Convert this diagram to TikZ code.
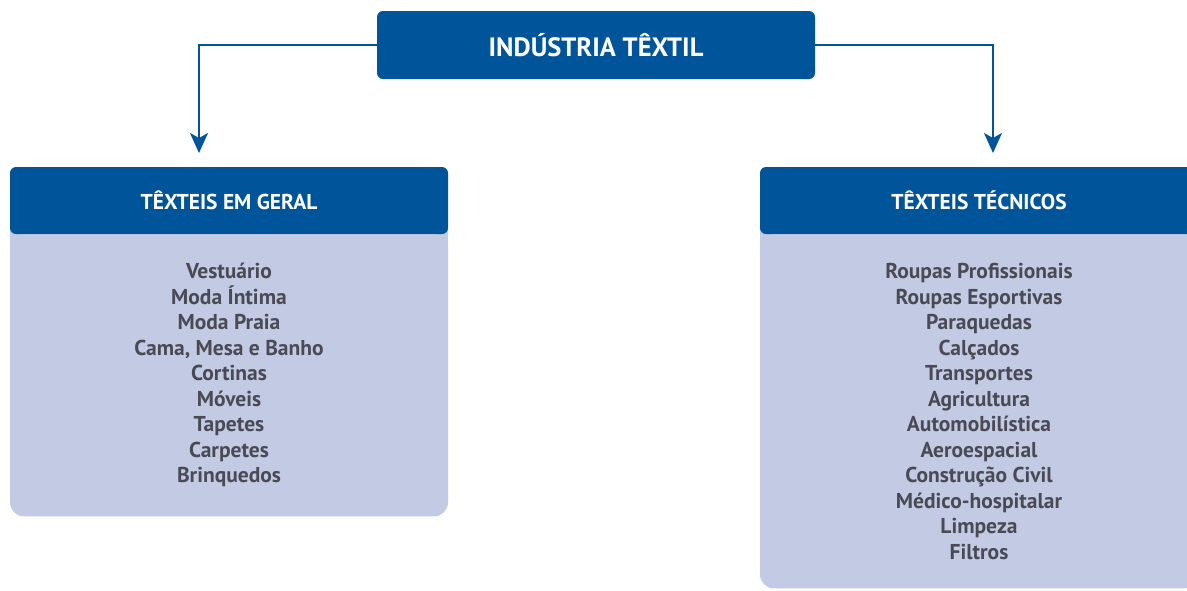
\documentclass[tikz,border=0pt]{standalone}
\usepackage{fontspec}
\setmainfont{PT Sans}
\usetikzlibrary{positioning,arrows.meta,backgrounds}

\definecolor{azul}{HTML}{00559A}
\definecolor{lilas}{HTML}{C2CBE3}
\definecolor{texto}{HTML}{4A4A55}

\tikzset{
  cabeca/.style={fill=azul, rounded corners=6pt, text=white, font=\bfseries\fontsize{21.5}{24}\selectfont,
    minimum width=438pt, minimum height=67pt, inner sep=0pt},
  corpo/.style={fill=lilas, rounded corners=14pt, text=texto, align=center,
    font=\bfseries\fontsize{21.5}{25.5}\selectfont, minimum width=438pt, inner sep=0pt},
  seta/.style={azul, line width=2pt, -{Stealth[length=20pt,width=18pt,inset=5pt]}}
}

\begin{document}
\begin{tikzpicture}[x=1pt,y=-1pt]
    \useasboundingbox (0,0) rectangle (1187,590);

    % Caixa principal
    \node[cabeca, font=\bfseries\fontsize{26.5}{30}\selectfont, minimum height=68pt] (industria) at (596,45) {INDÚSTRIA TÊXTIL};

    % Têxteis em geral
    \node[cabeca] (geral) at (229,200.5) {TÊXTEIS EM GERAL};
    \node[corpo, below=0pt of geral, minimum height=282pt] (geralitens)
        {Vestuário\\Moda Íntima\\Moda Praia\\Cama, Mesa e Banho\\Cortinas\\Móveis\\Tapetes\\Carpetes\\Brinquedos};

    % Têxteis técnicos
    \node[cabeca] (tecnicos) at (979,200.5) {TÊXTEIS TÉCNICOS};
    \node[corpo, below=0pt of tecnicos, minimum height=354pt] (tecnicositens)
        {Roupas Profissionais\\Roupas Esportivas\\Paraquedas\\Calçados\\Transportes\\Agricultura\\Automobilística\\Aeroespacial\\Construção Civil\\Médico-hospitalar\\Limpeza\\Filtros};

    % fundo atrás dos cantos
    \begin{scope}[on background layer]
        \fill[lilas] (geral.west) rectangle ([yshift=-20pt]geral.south east);
        \fill[lilas] (tecnicos.west) rectangle ([yshift=-20pt]tecnicos.south east);
    \end{scope}

    % Setas
    \coordinate (pontaesq) at (199,153);
    \coordinate (pontadir) at (993,153);
    \draw[seta] (industria.west) -| (pontaesq);
    \draw[seta] (industria.east) -| (pontadir);
\end{tikzpicture}
\end{document}
